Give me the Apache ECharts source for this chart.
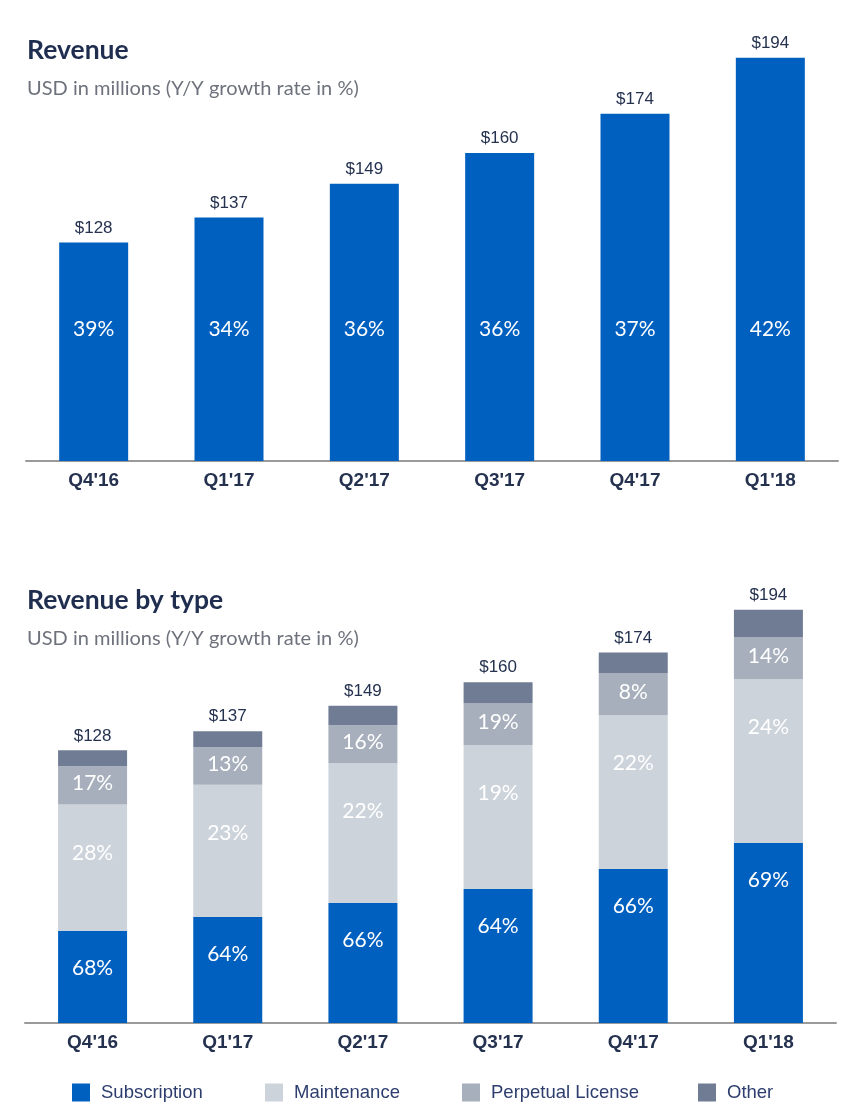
<!DOCTYPE html>
<html>
<head>
<meta charset="utf-8">
<script src="https://cdn.jsdelivr.net/npm/echarts@6/dist/echarts.min.js"></script>
<style>
html,body{margin:0;padding:0;background:#fff;}
#chart{width:867px;height:1119px;}
</style>
</head>
<body>
<div id="chart"></div>
<script>
const categories = ["Q4'16", "Q1'17", "Q2'17", "Q3'17", "Q4'17", "Q1'18"];
const revenue = [128, 137, 149, 160, 174, 194];
const revenueGrowth = [39, 34, 36, 36, 37, 42];

const subscription = [43.3, 49.8, 56.3, 62.9, 72.3, 84.5];
const maintenance = [59.3, 62.0, 65.7, 67.6, 72.3, 77.0];
const perpetual = [17.9, 17.7, 17.8, 19.7, 19.7, 19.7];
const other = [7.5, 7.5, 9.2, 9.8, 9.7, 12.8];
const subscriptionGrowth = [68, 64, 66, 64, 66, 69];
const maintenanceGrowth = [28, 23, 22, 19, 22, 24];
const perpetualGrowth = [17, 13, 16, 19, 8, 14];

const seriesNames = ['Subscription', 'Maintenance', 'Perpetual License', 'Other'];
const colors = {blue: '#0060BF', maint: '#CDD3DB', perp: '#A6AFBB', other: '#6F7C93'};

const navy = '#25324F';
const titleFont = 'Lato, "Open Sans", sans-serif';
const labelFont = '"Liberation Sans", Arial, sans-serif';

const chart = echarts.init(document.getElementById('chart'), null, {renderer: 'canvas'});

function xAxisCfg(gridIndex) {
  return {
    type: 'category', gridIndex, data: categories,
    axisLine: {show: true, lineStyle: {color: '#9A9A9A', width: 2}},
    axisTick: {show: false},
    axisLabel: {color: navy, fontSize: 19, fontWeight: 'bold', fontFamily: labelFont, margin: 10}
  };
}
function yAxisCfg(gridIndex, min, max) {
  return {type: 'value', gridIndex, min, max, show: false, splitLine: {show: false}};
}

const legendPos = [72, 265, 462, 698];

const titleStyle = {fontFamily: titleFont, fontSize: 26.5, fontWeight: 'bold', color: '#1F2D4F'};
const subStyle = {fontFamily: titleFont, fontSize: 20, color: '#6E727C'};

const option = {
  animation: false,
  backgroundColor: '#ffffff',
  title: [
    {text: 'Revenue', subtext: 'USD in millions (Y/Y growth rate in %)', left: 27, top: 37, padding: 0, itemGap: 15,
     textStyle: titleStyle, subtextStyle: subStyle},
    {text: 'Revenue by type', subtext: 'USD in millions (Y/Y growth rate in %)', left: 27, top: 587, padding: 0, itemGap: 15,
     textStyle: titleStyle, subtextStyle: subStyle}
  ],
  legend: seriesNames.map((n, i) => ({
    data: [n], left: legendPos[i], top: 1083, padding: 0,
    icon: 'rect', itemWidth: 18, itemHeight: 18,
    selectedMode: false,
    textStyle: {fontFamily: labelFont, fontSize: 18.5, color: '#2D3E6E', padding: [0, 0, 0, 6]}
  })),
  grid: [
    {left: 26, right: 29, top: 41, height: 420},
    {left: 25, right: 31, top: 597, height: 426}
  ],
  xAxis: [xAxisCfg(0), xAxisCfg(1)],
  yAxis: [yAxisCfg(0, 50, 200), yAxisCfg(1, 0, 200)],
  series: [
    {
      name: 'Revenue', type: 'bar', xAxisIndex: 0, yAxisIndex: 0, data: revenue, barWidth: 69,
      itemStyle: {color: colors.blue},
      label: {show: true, position: 'top', distance: 6, formatter: p => '$' + p.value,
              color: navy, fontSize: 17, fontFamily: labelFont}
    },
    {
      name: 'Revenue growth', type: 'bar', xAxisIndex: 0, yAxisIndex: 0, data: revenue, barWidth: 69, barGap: '-100%',
      itemStyle: {color: 'rgba(0,0,0,0)'}, silent: true,
      label: {show: true, position: 'insideBottom', distance: 121, formatter: p => revenueGrowth[p.dataIndex] + '%',
              color: '#ffffff', fontSize: 21, fontFamily: titleFont}
    },
    {
      name: 'Subscription', type: 'bar', stack: 't', xAxisIndex: 1, yAxisIndex: 1, data: subscription, barWidth: 69,
      itemStyle: {color: colors.blue},
      label: {show: true, position: 'insideTop', distance: 27, formatter: p => subscriptionGrowth[p.dataIndex] + '%',
              color: '#ffffff', fontSize: 21, fontFamily: titleFont}
    },
    {
      name: 'Maintenance', type: 'bar', stack: 't', xAxisIndex: 1, yAxisIndex: 1, data: maintenance, barWidth: 69,
      itemStyle: {color: colors.maint},
      label: {show: true, position: 'insideTop', distance: 38, formatter: p => maintenanceGrowth[p.dataIndex] + '%',
              color: '#ffffff', fontSize: 21, fontFamily: titleFont}
    },
    {
      name: 'Perpetual License', type: 'bar', stack: 't', xAxisIndex: 1, yAxisIndex: 1, data: perpetual, barWidth: 69,
      itemStyle: {color: colors.perp},
      label: {show: true, position: 'inside', offset: [0, -2], formatter: p => perpetualGrowth[p.dataIndex] + '%',
              color: '#ffffff', fontSize: 21, fontFamily: titleFont}
    },
    {
      name: 'Other', type: 'bar', stack: 't', xAxisIndex: 1, yAxisIndex: 1, data: other, barWidth: 69,
      itemStyle: {color: colors.other},
      label: {show: true, position: 'top', distance: 6, formatter: p => '$' + revenue[p.dataIndex],
              color: navy, fontSize: 17, fontFamily: labelFont}
    }
  ]
};
chart.setOption(option);
</script>
</body>
</html>
